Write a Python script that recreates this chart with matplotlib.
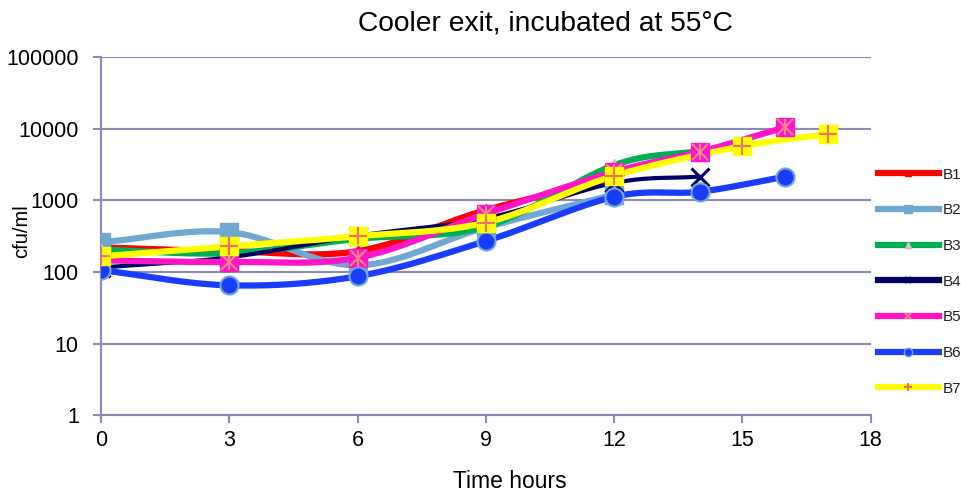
import numpy as np
import matplotlib
matplotlib.use("Agg")
import matplotlib.pyplot as plt
from matplotlib.lines import Line2D

plt.rcParams['font.family'] = ['Liberation Sans', 'DejaVu Sans']

# sample times (hours) and counts (cfu/ml) per batch
t_b1 = [0, 3, 6, 9, 12]
v_b1 = [220, 195, 195, 730, 2000]
t_b2 = [0, 3, 6, 9, 12]
v_b2 = [260, 360, 124, 420, 1200]
t_b3 = [0, 3, 6, 9, 12, 14]
v_b3 = [205, 183, 290, 430, 3100, 4900]
t_b4 = [0, 3, 6, 9, 12, 14]
v_b4 = [115, 160, 320, 560, 1750, 2150]
t_b5 = [0, 3, 6, 9, 12, 14, 16]
v_b5 = [145, 138, 158, 650, 2500, 4750, 10500]
t_b6 = [0, 3, 6, 9, 12, 14, 16]
v_b6 = [106, 65, 87, 270, 1120, 1320, 2140]
t_b7 = [0, 3, 6, 9, 12, 15, 17]
v_b7 = [165, 228, 315, 490, 2200, 5700, 8400]

labels = ["B1", "B2", "B3", "B4", "B5", "B6", "B7"]
x_ticks = [0, 3, 6, 9, 12, 15, 18]
y_ticks = [1, 10, 100, 1000, 10000, 100000]
y_tick_labels = ["1", "10", "100", "1000", "10000", "100000"]

AX_COL = "#8A8AB4"


def smooth(xs, ys, n=30):
    # catmull-rom through the points, done in log space like excel's smoothed line
    x = np.asarray(xs, float)
    y = np.log10(np.asarray(ys, float))
    px = np.concatenate([[2*x[0]-x[1]], x, [2*x[-1]-x[-2]]])
    py = np.concatenate([[2*y[0]-y[1]], y, [2*y[-1]-y[-2]]])
    ox, oy = [], []
    s = np.linspace(0, 1, n)
    for i in range(1, len(px)-2):
        c1x = px[i] + (px[i+1]-px[i-1])/6
        c1y = py[i] + (py[i+1]-py[i-1])/6
        c2x = px[i+1] - (px[i+2]-px[i])/6
        c2y = py[i+1] - (py[i+2]-py[i])/6
        bx = (1-s)**3*px[i] + 3*(1-s)**2*s*c1x + 3*(1-s)*s**2*c2x + s**3*px[i+1]
        by = (1-s)**3*py[i] + 3*(1-s)**2*s*c1y + 3*(1-s)*s**2*c2y + s**3*py[i+1]
        ox.extend(bx)
        oy.extend(by)
    return np.array(ox), 10**np.array(oy)


fig = plt.figure(figsize=(9.62, 4.93), dpi=100)
ax = fig.add_axes([0.105, 0.158, 0.800, 0.726])

series = [
    (t_b1, v_b1, "#FF0000", 4.5),
    (t_b2, v_b2, "#70A8D0", 4.5),
    (t_b3, v_b3, "#00B050", 4.5),
    (t_b4, v_b4, "#000066", 3.0),
    (t_b5, v_b5, "#FF14C8", 4.5),
    (t_b6, v_b6, "#1A3CFF", 4.5),
    (t_b7, v_b7, "#FFFF00", 4.5),
]

for i, (t, v, c, lw) in enumerate(series):
    sx, sy = smooth(t, v)
    ax.plot(sx, sy, color=c, lw=lw, solid_capstyle='round', zorder=3+i)

z = 20
# markers
ax.plot(t_b1, v_b1, ls='none', marker='^', ms=9, color="#FF0000", mec="#FF0000", zorder=z)
ax.plot(t_b2, v_b2, ls='none', marker='s', ms=13, color="#70A8D0", mec="#70A8D0", zorder=z+1)
ax.plot(t_b3, v_b3, ls='none', marker='^', ms=9, color="#D8D8D8", mec="#C0C0C0", zorder=z+2)
ax.plot(t_b4, v_b4, ls='none', marker='x', ms=13, mew=2.2, color="#000066", zorder=z+3)
ax.plot(t_b5, v_b5, ls='none', marker='s', ms=13, color="#FF14C8", mec="#FF14C8", zorder=z+4)
ax.plot(t_b5, v_b5, ls='none', marker='x', ms=12, mew=1.5, color="#F08A8A", zorder=z+4)
ax.plot(t_b5, v_b5, ls='none', marker='|', ms=12, mew=1.5, color="#F08A8A", zorder=z+4)
ax.plot(t_b6, v_b6, ls='none', marker='o', ms=13, color="#1A3CFF", mec="#70A8D0", mew=1.5, zorder=z+5)
ax.plot(t_b7, v_b7, ls='none', marker='s', ms=13, color="#FFFF00", mec="#FFFF00", zorder=z+6)
ax.plot(t_b7, v_b7, ls='none', marker='+', ms=13, mew=1.5, color="#F07070", zorder=z+6)

ax.set_yscale('log')
ax.set_ylim(1, 100000)
ax.set_xlim(0, 18)
ax.set_xticks(x_ticks)
ax.set_xticklabels([str(v) for v in x_ticks])
ax.set_yticks(y_ticks)
ax.set_yticklabels(y_tick_labels)
ax.yaxis.set_minor_locator(matplotlib.ticker.NullLocator())
ax.grid(axis='y', color=AX_COL, lw=1.5, zorder=0)
ax.set_axisbelow(True)
for s in ['top', 'right']:
    ax.spines[s].set_visible(False)
for s in ['left', 'bottom']:
    ax.spines[s].set_color(AX_COL)
    ax.spines[s].set_linewidth(1.5)
ax.tick_params(colors=AX_COL, width=1.5, length=6, labelcolor='black', labelsize=15.5)
ax.tick_params(axis='y', pad=10)
ax.tick_params(axis='x', pad=5)

# title and axis titles sit where the spreadsheet put them (centred over plot + legend)
fig.text(545/962, 1-24/493, "Cooler exit, incubated at 55°C", fontsize=20.3,
         ha='center', va='center')
fig.text(510/962, 1-481/493, "Time hours", fontsize=16.5, ha='center', va='center')
fig.text(22/962, 1-231/493, "cfu/ml", rotation=90, fontsize=14.5,
         ha='center', va='center')

handles = [
    Line2D([], [], color="#FF0000", lw=4.5, marker='^', ms=4, mec="#FF0000"),
    Line2D([], [], color="#70A8D0", lw=4.5, marker='s', ms=6, mec="#70A8D0"),
    Line2D([], [], color="#00B050", lw=4.5, marker='^', ms=5, mfc="#D8D8D8", mec="#C0C0C0"),
    Line2D([], [], color="#000066", lw=4.5, marker='x', ms=5, mew=1.5),
    Line2D([], [], color="#FF14C8", lw=4.5, marker='x', ms=5, mew=1.5, mec="#F08A8A"),
    Line2D([], [], color="#1A3CFF", lw=4.5, marker='o', ms=6, mec="#70A8D0"),
    Line2D([], [], color="#FFFF00", lw=4.5, marker='+', ms=6, mew=1.5, mec="#F07070"),
]
leg = ax.legend(handles, labels, loc='center left', bbox_to_anchor=(1.009, 0.373),
                frameon=False, fontsize=11, handlelength=4.0, handletextpad=0.25,
                labelspacing=1.42, borderpad=0, borderaxespad=0)
for txt in leg.get_texts():
    txt.set_color('#222222')

fig.savefig("out.png", dpi=100)
